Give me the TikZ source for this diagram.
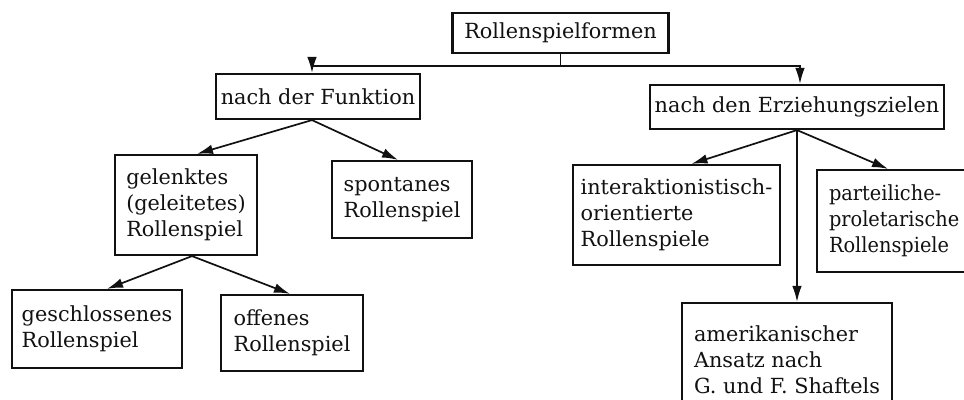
\documentclass[tikz,border=0pt]{standalone}
\usepackage{fontspec}
\setmainfont{DejaVu Serif}
\usetikzlibrary{arrows.meta,positioning}
\definecolor{tinte}{HTML}{111111}

\begin{document}
\begin{tikzpicture}[x=0.5pt,y=-0.5pt,
  kasten/.style={draw=tinte,line width=1.1pt,inner sep=0pt,align=left,
    font=\fontsize{10.4}{13}\selectfont,text=tinte},
  pfeil/.style={draw=tinte,line width=0.85pt,-{Latex[length=8pt,width=4.8pt]}}]
  \useasboundingbox (0,0) rectangle (964,400);
  \clip (0,0) rectangle (964,400);
  % oberste Ebene
  \node[kasten,align=center,minimum width=108pt,minimum height=20pt] (formen) at (560.5,33) {Rollenspielformen};
  \node[kasten,align=center,minimum width=102pt,minimum height=22.5pt] (funktion) at (318,96.5) {nach der Funktion};
  \node[kasten,align=center,minimum width=147pt,minimum height=22pt] (ziele) at (797,107) {nach den Erziehungszielen};
  % nach der Funktion
  \node[kasten,minimum width=71pt,minimum height=50pt] (gelenkt) at (186,205) {gelenktes\\(geleitetes)\\Rollenspiel};
  \node[kasten,minimum width=70pt,minimum height=38.5pt] (spontan) at (402,199.5) {spontanes\\Rollenspiel};
  \node[kasten,minimum width=85pt,minimum height=39pt] (geschlossen) at (97,329) {geschlossenes\\Rollenspiel};
  \node[kasten,minimum width=71pt,minimum height=38pt] (offen) at (292,333) {offenes\\Rollenspiel};
  % nach den Erziehungszielen
  \node[kasten,minimum width=103.5pt,minimum height=50pt] (interakt) at (676.5,215) {interaktionistisch-\\orientierte\\Rollenspiele};
  \node[kasten,text width=75pt,inner xsep=6pt,minimum height=51pt,
    font=\fontsize{10.4}{13}\selectfont\addfontfeature{FakeStretch=0.93}] (partei) at (904,221) {parteiliche-\\proletarische\\Rollenspiele};
  \node[kasten,minimum width=105pt,minimum height=57pt] (amerika) at (787,360) {amerikanischer\\Ansatz nach\\G. und F. Shaftels};
  % Verbindungen
  \coordinate (bus) at (560.5,66);
  \draw[draw=tinte,line width=0.85pt] (formen.south) -- (bus);
  \draw[pfeil] (bus) -| ([xshift=-3pt]funktion.north);
  \draw[pfeil] (bus) -| ([xshift=1.5pt]ziele.north);
  \draw[pfeil] ([xshift=-3pt]funktion.south) -- ([xshift=5.5pt]gelenkt.north);
  \draw[pfeil] ([xshift=-3pt]funktion.south) -- ([xshift=-2pt]spontan.north);
  \draw[pfeil] ([xshift=3pt]gelenkt.south) -- ([xshift=5pt]geschlossen.north);
  \draw[pfeil] ([xshift=3pt]gelenkt.south) -- ([xshift=-1pt]offen.north);
  \draw[pfeil] (ziele.south) -- ([xshift=7.5pt]interakt.north);
  \draw[pfeil] (ziele.south) -- ([xshift=-8pt]partei.north);
  \draw[pfeil] (ziele.south) -- (ziele.south |- amerika.north);
\end{tikzpicture}
\end{document}
